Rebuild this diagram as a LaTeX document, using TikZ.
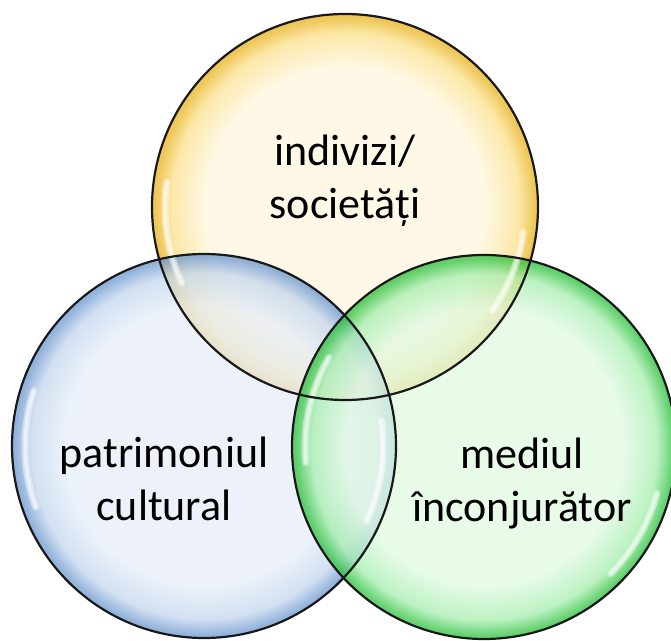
\documentclass[tikz,border=0pt]{standalone}
\usepackage{fontspec}
\setmainfont{Carlito}
\definecolor{yCen}{HTML}{FFF6DE}
\definecolor{yMid}{HTML}{FBE08A}
\definecolor{yRim}{HTML}{E8B420}
\definecolor{bCen}{HTML}{E7EEF8}
\definecolor{bMid}{HTML}{C3D6EE}
\definecolor{bRim}{HTML}{6F9AD0}
\definecolor{gCen}{HTML}{E0F9E2}
\definecolor{gMid}{HTML}{A6EEAE}
\definecolor{gRim}{HTML}{2FC23F}
\pgfdeclareradialshading{glossY}{\pgfpoint{0bp}{0bp}}{color(0bp)=(yCen); color(18bp)=(yCen); color(22.5bp)=(yMid); color(24.6bp)=(yRim); color(50bp)=(yRim)}
\pgfdeclareradialshading{glossB}{\pgfpoint{0bp}{0bp}}{color(0bp)=(bCen); color(18bp)=(bCen); color(22.5bp)=(bMid); color(24.6bp)=(bRim); color(50bp)=(bRim)}
\pgfdeclareradialshading{glossG}{\pgfpoint{0bp}{0bp}}{color(0bp)=(gCen); color(18bp)=(gCen); color(22.5bp)=(gMid); color(24.6bp)=(gRim); color(50bp)=(gRim)}
\tikzset{
  bubble/.style={opacity=0.75},
  rimline/.style={draw=black!90, line width=2.2pt},
  hl/.style={draw=white, line width=7pt, line cap=round, opacity=0.45},
  hlcore/.style={draw=white, line width=3pt, line cap=round, opacity=0.5},
  lbl/.style={align=center, inner sep=0pt, font=\fontsize{44}{53}\selectfont, text=black}
}
\begin{document}
\begin{tikzpicture}[x=1pt,y=1pt]
\useasboundingbox (0,0) rectangle (671,640);
\clip (0,0) rectangle (671,640);
\coordinate (cY) at (345,433);
\coordinate (cB) at (204,194);
\coordinate (cG) at (484,193);
% fills
\shade[shading=glossY, bubble] (cY) circle (193);
\shade[shading=glossB, bubble] (cB) circle (192);
\shade[shading=glossG, bubble] (cG) circle (192);
% highlights
\foreach \s in {hl,hlcore}{
\draw[\s] (cY) ++(172:180) arc[start angle=172, end angle=205, radius=180];
\draw[\s] (cY) ++(-35:180) arc[start angle=-35, end angle=-8, radius=180];
\draw[\s] (cB) ++(162:179) arc[start angle=162, end angle=200, radius=179];
\draw[\s] (cB) ++(-25:179) arc[start angle=-25, end angle=8, radius=179];
\draw[\s] (cG) ++(150:179) arc[start angle=150, end angle=185, radius=179];
\draw[\s] (cG) ++(-45:179) arc[start angle=-45, end angle=-15, radius=179];
}
% outlines
\draw[rimline] (cY) circle (193);
\draw[rimline] (cB) circle (192);
\draw[rimline] (cG) circle (192);
% labels
\node[lbl] (tY) at (345,459) {indivizi/\\societăți};
\node[lbl] (tB) at (164,161) {patrimoniul\\cultural};
\node[lbl] (tG) at (522,157) {mediul\\înconjurător};
\end{tikzpicture}
\end{document}
